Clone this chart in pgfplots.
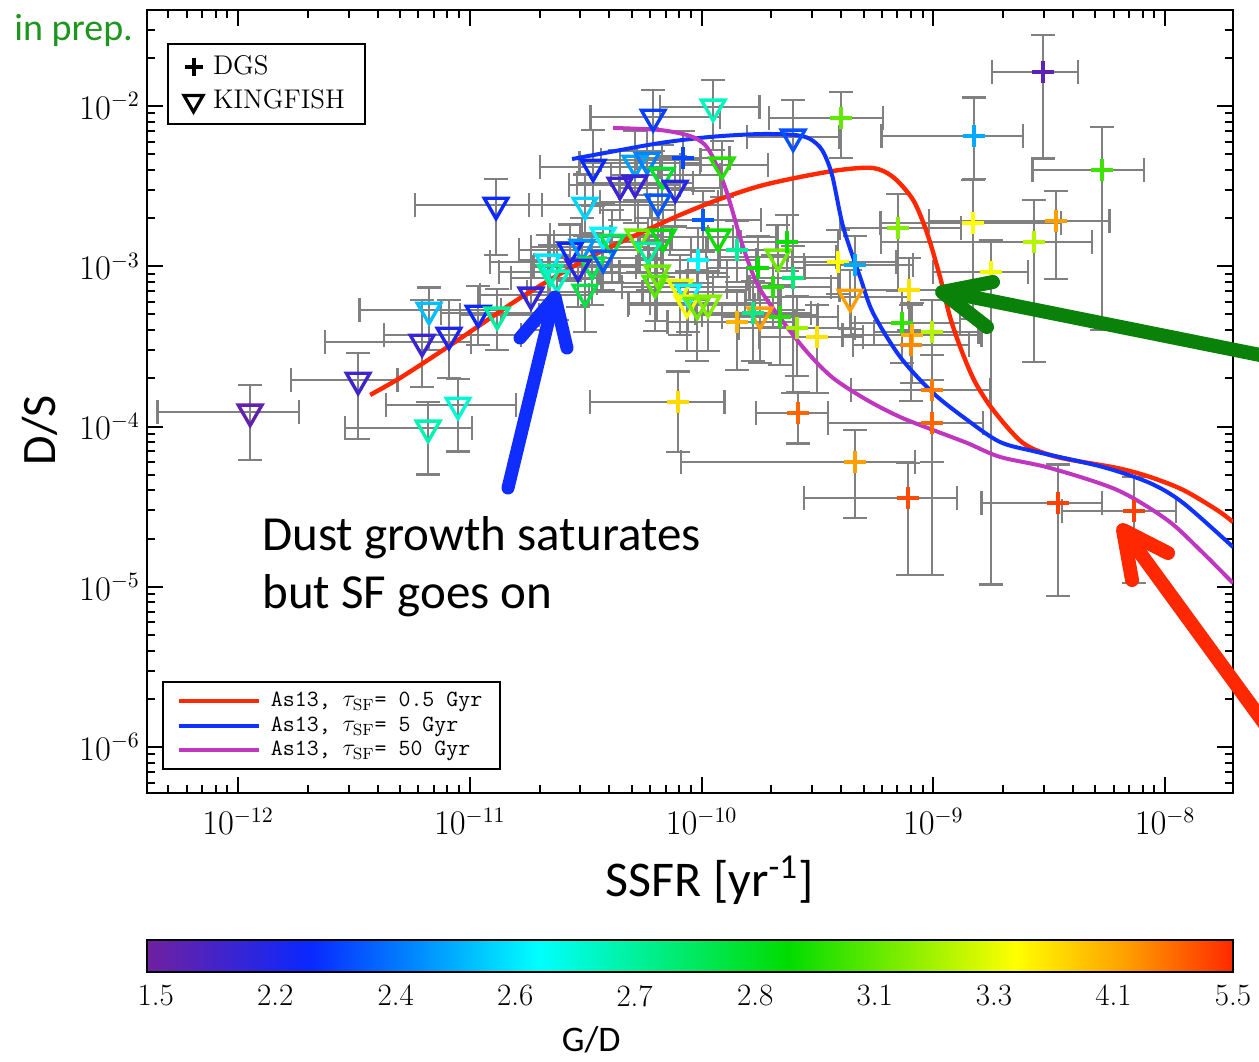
\documentclass[border=0pt]{standalone}
\usepackage{pgfplots}
\pgfplotsset{compat=1.18}
\usepackage{pgfplotstable}
\usepackage{fontspec}
\newfontfamily\calibri{Carlito}
\definecolor{errgray}{RGB}{128,128,128}
\definecolor{cred}{RGB}{255,40,0}
\definecolor{cblue}{RGB}{15,50,255}
\definecolor{cmag}{RGB}{190,55,190}
\definecolor{agreen}{RGB}{10,130,10}
\definecolor{tgreen}{RGB}{30,150,30}
\definecolor{ablue}{RGB}{15,45,255}
\pgfplotsset{colormap={gd}{rgb255(0pt)=(112,32,160) rgb255(15pt)=(10,40,255) rgb255(25pt)=(0,140,255) rgb255(36pt)=(0,255,255) rgb255(59pt)=(0,220,0) rgb255(80pt)=(255,255,0) rgb255(90pt)=(255,160,0) rgb255(100pt)=(255,40,0)}}

\pgfplotstableread{
x y exm exp eym eyp c
-11.948 -3.909 0.40 0.21 0.30 0.17 0.02
-11.482 -3.710 0.29 0.17 0.37 0.17 0.07
-11.176 -3.273 0.30 0.31 0.25 0.14 0.30
-11.206 -3.473 0.42 0.21 0.28 0.26 0.08
-11.090 -3.429 0.28 0.31 0.27 0.22 0.12
-11.051 -3.866 0.31 0.25 0.29 0.16 0.40
-11.180 -4.009 0.36 0.19 0.29 0.16 0.43
-10.964 -3.292 0.16 0.35 0.20 0.17 0.15
-10.882 -3.304 0.16 0.18 0.22 0.16 0.45
-10.887 -2.618 0.35 0.20 0.31 0.16 0.15
-10.736 -3.179 0.22 0.25 0.22 0.22 0.09
-10.662 -2.973 0.25 0.27 0.24 0.17 0.34
-10.654 -3.036 0.22 0.30 0.24 0.17 0.45
-10.624 -3.073 0.20 0.19 0.26 0.14 0.42
-10.567 -2.899 0.22 0.30 0.19 0.16 0.15
-10.516 -2.880 0.22 0.29 0.20 0.18 0.26
-10.468 -2.381 0.23 0.29 0.24 0.23 0.15
-10.287 -2.356 0.24 0.28 0.23 0.20 0.27
-10.235 -2.337 0.20 0.23 0.22 0.20 0.24
-10.352 -2.493 0.22 0.26 0.22 0.22 0.08
-10.287 -2.480 0.25 0.25 0.25 0.20 0.08
-10.170 -2.431 0.22 0.25 0.22 0.19 0.55
-10.114 -2.512 0.24 0.20 0.24 0.20 0.11
-10.209 -2.069 0.27 0.29 0.21 0.17 0.17
-9.950 -2.006 0.23 0.20 0.27 0.17 0.42
-9.605 -2.193 0.20 0.20 1.60 0.23 0.19
-9.912 -2.368 0.18 0.20 0.20 0.15 0.62
-10.503 -2.618 0.24 0.28 0.19 0.19 0.32
-10.188 -2.599 0.25 0.26 0.24 0.20 0.20
-10.425 -2.805 0.23 0.25 0.20 0.20 0.35
-10.386 -2.849 0.25 0.25 0.25 0.20 0.52
-10.274 -2.817 0.25 0.30 0.22 0.22 0.68
-10.166 -2.817 0.23 0.30 0.25 0.20 0.58
-10.231 -2.899 0.20 0.25 0.25 0.20 0.45
-10.472 -2.992 0.25 0.25 0.25 0.20 0.52
-10.425 -2.949 0.20 0.25 0.20 0.18 0.20
-10.533 -3.005 0.20 0.25 0.25 0.20 0.10
-10.503 -3.161 0.25 0.25 0.25 0.17 0.53
-10.192 -3.042 0.25 0.30 0.30 0.20 0.68
-10.201 -3.105 0.25 0.25 0.30 0.22 0.66
-10.093 -3.130 0.25 0.30 0.30 0.20 0.78
-10.058 -3.161 0.20 0.25 0.25 0.20 0.36
-10.063 -3.229 0.25 0.25 0.30 0.20 0.79
-10.019 -3.242 0.30 0.25 0.35 0.22 0.68
-9.972 -3.229 0.25 0.30 0.30 0.20 0.70
-9.929 -2.817 0.20 0.25 0.25 0.20 0.60
-9.670 -2.942 0.25 0.25 0.25 0.20 0.68
-9.748 -3.304 0.25 0.25 0.30 0.20 0.90
-9.359 -3.192 0.30 0.25 0.20 0.17 0.90
}\kdata

\pgfplotstableread{
x y exm exp eym eyp c
-8.526 -1.788 0.22 0.15 0.54 0.23 0.03
-8.824 -2.187 0.40 0.21 0.27 0.24 0.28
-8.272 -2.399 0.30 0.18 1.00 0.27 0.64
-9.398 -2.075 0.31 0.18 0.25 0.16 0.67
-10.080 -2.324 0.20 0.20 0.20 0.17 0.18
-9.994 -2.711 0.22 0.25 0.20 0.18 0.20
-9.847 -2.899 0.20 0.22 0.20 0.18 0.45
-10.015 -2.961 0.25 0.25 0.25 0.20 0.35
-9.631 -2.849 0.20 0.22 0.18 0.17 0.60
-9.756 -3.011 0.22 0.20 0.20 0.20 0.60
-9.605 -3.073 0.20 0.20 0.20 0.20 0.48
-9.692 -3.130 0.20 0.25 0.25 0.20 0.62
-9.411 -2.973 0.20 0.25 0.20 0.20 0.80
-9.338 -2.992 0.22 0.25 0.20 0.18 0.28
-9.152 -2.761 0.25 0.27 0.39 0.21 0.70
-8.828 -2.730 0.40 0.38 0.60 0.27 0.80
-8.470 -2.718 0.55 0.23 0.36 0.19 0.90
-8.565 -2.849 0.66 0.25 0.75 0.26 0.74
-8.751 -3.036 0.25 0.16 1.95 0.20 0.79
-9.105 -3.148 0.30 0.30 0.25 0.20 0.83
-9.135 -3.354 0.22 0.25 0.25 0.20 0.63
-9.092 -3.429 0.30 0.30 0.30 0.20 0.88
-9.096 -3.491 0.25 0.25 0.35 0.25 0.92
-9.005 -3.410 0.25 0.20 0.30 0.20 0.74
-9.847 -3.348 0.30 0.25 0.30 0.20 0.88
-9.778 -3.292 0.25 0.25 0.30 0.20 0.47
-9.661 -3.317 0.25 0.25 0.30 0.20 0.62
-9.588 -3.385 0.25 0.25 0.30 0.20 0.72
-9.502 -3.441 0.25 0.20 0.35 0.20 0.83
-10.101 -3.847 0.38 0.20 0.31 0.19 0.84
-9.584 -3.916 0.18 0.13 0.19 0.13 0.95
-9.338 -4.222 0.75 0.26 0.35 0.20 0.90
-9.005 -3.772 0.35 0.25 0.45 0.22 0.93
-9.005 -3.978 0.45 0.22 0.95 0.27 0.95
-9.109 -4.446 0.45 0.21 0.48 0.22 0.97
-8.462 -4.477 0.33 0.19 0.58 0.24 0.98
-8.134 -4.527 0.31 0.18 0.45 0.21 0.98
}\ddata

\pgfplotsset{
  errstyle/.style={forget plot, draw=none, mark=none,
    error bars/.cd, x dir=both, x explicit, y dir=both, y explicit,
    error bar style={draw=errgray, line width=1.1pt},
    error mark options={rotate=90, draw=errgray, line width=1.1pt, mark size=6pt}},
}

\begin{document}
\begin{tikzpicture}
\path[use as bounding box] (0pt,0pt) rectangle (629.5pt,-530.5pt);

\begin{axis}[
  at={(73.5pt,-396.5pt)}, anchor=south west, scale only axis,
  width=543pt, height=391.5pt,
  xmin=-12.393, xmax=-7.707, ymin=-6.287, ymax=-1.401,
  xtick={-12,-11,-10,-9,-8},
  xticklabels={$10^{-12}$,$10^{-11}$,$10^{-10}$,$10^{-9}$,$10^{-8}$},
  ytick={-6,-5,-4,-3,-2},
  yticklabels={$10^{-6}$,$10^{-5}$,$10^{-4}$,$10^{-3}$,$10^{-2}$},
  minor xtick={-12.301,-12.222,-12.155,-12.097,-12.046,
    -11.699,-11.523,-11.398,-11.301,-11.222,-11.155,-11.097,-11.046,
    -10.699,-10.523,-10.398,-10.301,-10.222,-10.155,-10.097,-10.046,
    -9.699,-9.523,-9.398,-9.301,-9.222,-9.155,-9.097,-9.046,
    -8.699,-8.523,-8.398,-8.301,-8.222,-8.155,-8.097,-8.046},
  minor ytick={-6.222,-6.155,-6.097,-6.046,
    -5.699,-5.523,-5.398,-5.301,-5.222,-5.155,-5.097,-5.046,
    -4.699,-4.523,-4.398,-4.301,-4.222,-4.155,-4.097,-4.046,
    -3.699,-3.523,-3.398,-3.301,-3.222,-3.155,-3.097,-3.046,
    -2.699,-2.523,-2.398,-2.301,-2.222,-2.155,-2.097,-2.046,
    -1.699,-1.523},
  tick align=inside, major tick length=8pt, minor tick length=4pt,
  tick style={line width=1pt, black},
  axis line style={line width=1pt},
  tick label style={font=\fontsize{16}{19}\selectfont},
  xticklabel style={yshift=-4pt},
  colormap name=gd, point meta min=0, point meta max=1,
  xlabel={SSFR [yr\textsuperscript{-1}]},
  xlabel style={font=\calibri\fontsize{25}{30}\selectfont, at={(axis description cs:0.518,-0.111)}, anchor=center},
  ylabel={D/S},
  ylabel style={font=\calibri\fontsize{24}{28}\selectfont, at={(axis description cs:-0.0985,0.4636)}, anchor=center},
  legend style={at={(0.0184,0.958)}, anchor=north west, draw=black, line width=1pt,
    font=\fontsize{13.5}{16}\selectfont, row sep=2pt, inner xsep=8pt, inner ysep=4pt,
    /tikz/every odd column/.append style={column sep=3pt}},
  legend cell align=left,
]
\addplot[errstyle] table[x=x,y=y,x error minus=exm,x error plus=exp,y error minus=eym,y error plus=eyp] \kdata;
\addplot[errstyle] table[x=x,y=y,x error minus=exm,x error plus=exp,y error minus=eym,y error plus=eyp] \ddata;

\addplot[forget plot, scatter, only marks, mark=triangle, mark size=6.8pt,
  mark options={rotate=180, line width=1.7pt, fill=none},
  point meta=explicit, scatter/use mapped color={draw=mapped color, fill=none}]
  table[x=x,y=y,meta=c] \kdata;
\addplot[forget plot, scatter, only marks, mark=+, mark size=5.4pt,
  mark options={line width=2.1pt},
  point meta=explicit, scatter/use mapped color={draw=mapped color}]
  table[x=x,y=y,meta=c] \ddata;

% model curves
\addplot[forget plot, cred, line width=2.2pt, smooth, tension=0.5] coordinates {
(-11.430,-3.803) (-11.301,-3.697) (-11.128,-3.535) (-10.956,-3.367) (-10.783,-3.198)
(-10.611,-3.048) (-10.438,-2.911) (-10.265,-2.793) (-10.093,-2.680) (-9.920,-2.580)
(-9.748,-2.499) (-9.575,-2.443) (-9.402,-2.399) (-9.260,-2.387) (-9.174,-2.443)
(-9.087,-2.587) (-9.027,-2.793) (-8.971,-3.067) (-8.928,-3.317) (-8.876,-3.535)
(-8.820,-3.722) (-8.742,-3.897) (-8.613,-4.103) (-8.466,-4.190) (-8.207,-4.259)
(-8.065,-4.315) (-7.922,-4.396) (-7.776,-4.521) (-7.707,-4.596)};
\addplot[forget plot, cblue, line width=2pt, smooth, tension=0.5] coordinates {
(-10.559,-2.331) (-10.395,-2.287) (-10.179,-2.231) (-9.963,-2.193) (-9.748,-2.175)
(-9.597,-2.181) (-9.532,-2.206) (-9.480,-2.275) (-9.437,-2.431) (-9.389,-2.755)
(-9.316,-3.067) (-9.260,-3.292) (-9.143,-3.566) (-9.001,-3.791) (-8.854,-3.959)
(-8.712,-4.097) (-8.552,-4.159) (-8.268,-4.253) (-8.065,-4.353) (-7.922,-4.477)
(-7.707,-4.752)};
\addplot[forget plot, cmag, line width=2pt, smooth, tension=0.5] coordinates {
(-10.382,-2.137) (-10.179,-2.150) (-10.050,-2.187) (-9.985,-2.243) (-9.942,-2.349)
(-9.890,-2.543) (-9.821,-2.880) (-9.756,-3.122) (-9.661,-3.323) (-9.545,-3.535)
(-9.433,-3.697) (-9.286,-3.835) (-9.143,-3.941) (-9.001,-4.022) (-8.854,-4.103)
(-8.712,-4.190) (-8.496,-4.259) (-8.207,-4.396) (-7.991,-4.583) (-7.849,-4.771)
(-7.707,-4.977)};

\addlegendimage{only marks, mark=+, mark size=4.5pt, line width=2pt, black}
\addlegendentry{DGS}
\addlegendimage{only marks, mark=triangle, mark size=5.5pt, mark options={rotate=180, line width=1.6pt}, black}
\addlegendentry{KINGFISH}
\end{axis}

% second legend
\begin{axis}[
  at={(73.5pt,-396.5pt)}, anchor=south west, scale only axis,
  width=543pt, height=391.5pt, hide axis,
  xmin=0, xmax=1, ymin=0, ymax=1,
  legend style={at={(0.0138,0.0294)}, anchor=south west, draw=black, line width=1pt,
    font=\ttfamily\fontsize{11.6}{12.5}\selectfont, row sep=-0.5pt, inner xsep=7pt, inner ysep=3pt,
    /tikz/every odd column/.append style={column sep=3pt}},
  legend cell align=left,
  legend image code/.code={\draw[#1] (0pt,0pt) -- (40pt,0pt);},
]
\addlegendimage{cred, line width=2pt}
\addlegendentry{As13, $\tau_{\mathrm{SF}}$= 0.5 Gyr}
\addlegendimage{cblue, line width=2pt}
\addlegendentry{As13, $\tau_{\mathrm{SF}}$= 5 Gyr}
\addlegendimage{cmag, line width=2pt}
\addlegendentry{As13, $\tau_{\mathrm{SF}}$= 50 Gyr}
\end{axis}

% colorbar
\begin{axis}[
  at={(73.5pt,-486pt)}, anchor=south west, scale only axis,
  width=543pt, height=16pt,
  xmin=0, xmax=1, ymin=0, ymax=1, ytick=\empty,
  xtick={0.008,0.118,0.229,0.339,0.449,0.560,0.670,0.780,0.890,1.0},
  xticklabels={1.5,2.2,2.4,2.6,2.7,2.8,3.1,3.3,4.1,5.5},
  major tick length=0pt,
  axis line style={line width=1.2pt},
  tick label style={font=\fontsize{15.5}{18}\selectfont, yshift=-3pt},
  axis on top,
  colormap name=gd, point meta min=0, point meta max=1,
  xlabel={G/D},
  xlabel style={font=\calibri\fontsize{18}{21}\selectfont, at={(axis description cs:0.409,-2.12)}, anchor=center},
]
\addplot[surf, shader=interp, mesh/rows=2, point meta=x] coordinates {(0,0) (1,0) (0,1) (1,1)};
\end{axis}

\begin{scope}[x=0.5pt,y=-0.5pt]
\node[anchor=base west, font=\calibri\fontsize{19}{22}\selectfont, text=tgreen, inner sep=0pt] at (14,40) {in prep.};
\node[anchor=base west, font=\calibri\fontsize{24.5}{30}\selectfont, inner sep=0pt] at (262,550) {Dust growth saturates};
\node[anchor=base west, font=\calibri\fontsize{24.5}{30}\selectfont, inner sep=0pt] at (262,608) {but SF goes on};
\draw[ablue, line width=6.5pt, line cap=round, line join=round] (508,488) -- (553,302);
\draw[ablue, line width=6.5pt, line cap=round, line join=round] (520,338) -- (555,297) -- (567,348);
\draw[agreen, line width=7pt, line cap=round, line join=round] (1275,358) -- (947,292);
\draw[agreen, line width=7pt, line cap=round, line join=round] (993,282) -- (942,292) -- (987,327);
\draw[cred, line width=7pt, line cap=round, line join=round] (1275,738) -- (1127,535);
\draw[cred, line width=7pt, line cap=round, line join=round] (1132,580) -- (1123,530) -- (1168,553);
\end{scope}
\end{tikzpicture}
\end{document}
